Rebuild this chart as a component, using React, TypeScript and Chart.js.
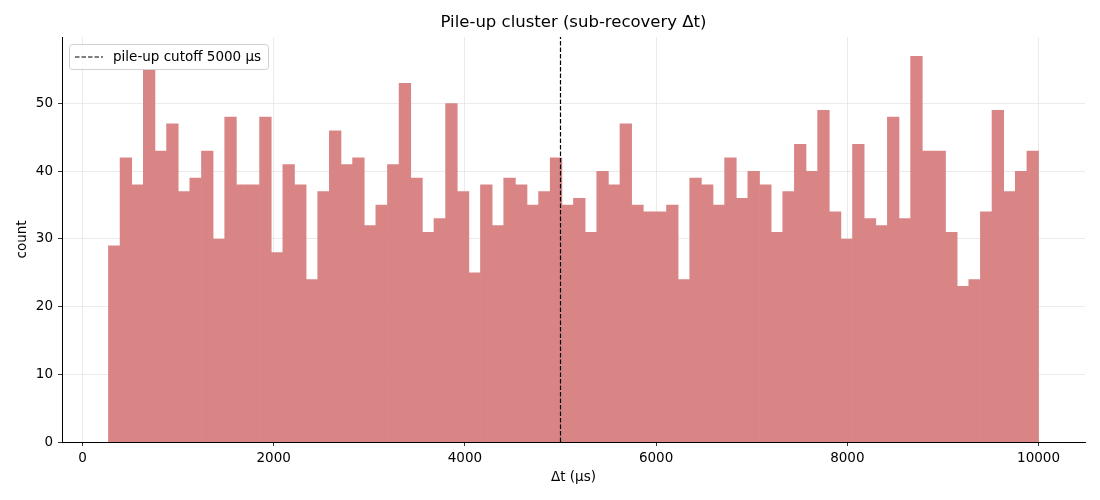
import { useEffect, useRef } from "react"
import { Chart, registerables } from "chart.js"

Chart.register(...registerables)

// histogram of delta-t values (µs), 80 equal bins from BIN_START to BIN_END
const BIN_START = 272
const BIN_END = 10000
const COUNTS = [
  29, 42, 38, 55, 43, 47, 37, 39, 43, 30,
  48, 38, 38, 48, 28, 41, 38, 24, 37, 46,
  41, 42, 32, 35, 41, 53, 39, 31, 33, 50,
  37, 25, 38, 32, 39, 38, 35, 37, 42, 35,
  36, 31, 40, 38, 47, 35, 34, 34, 35, 24,
  39, 38, 35, 42, 36, 40, 38, 31, 37, 44,
  40, 49, 34, 30, 44, 33, 32, 48, 33, 57,
  43, 43, 31, 23, 24, 34, 49, 37, 40, 43,
]
const CUTOFF = 5000
const X_TICKS = [0, 2000, 4000, 6000, 8000, 10000]
const Y_TICKS = [0, 10, 20, 30, 40, 50]
const TITLE = "Pile-up cluster (sub-recovery Δt)"

const X_MIN = -214
const X_MAX = 10486
const Y_MAX = 59.85

const FONT = "'DejaVu Sans', sans-serif"

// title centred over the plot area, like matplotlib does
const axesTitle = {
  id: "axesTitle",
  afterDraw(chart: any) {
    const { ctx, chartArea } = chart
    ctx.save()
    ctx.font = `16.5px ${FONT}`
    ctx.fillStyle = "#000"
    ctx.textAlign = "center"
    ctx.textBaseline = "middle"
    ctx.fillText(TITLE, (chartArea.left + chartArea.right) / 2, 23)
    ctx.restore()
  },
}

// matplotlib-style legend drawn inside the plot, upper left
const insideLegend = {
  id: "insideLegend",
  afterDraw(chart: any) {
    const { ctx, chartArea } = chart
    const ds = chart.data.datasets[1]
    const label = ds.label as string
    ctx.save()
    ctx.font = `13.5px ${FONT}`
    const textW = ctx.measureText(label).width
    const x = chartArea.left + 7
    const y = chartArea.top + 7
    const w = 44 + textW + 7
    const h = 25
    ctx.beginPath()
    ctx.roundRect(x + 0.5, y + 0.5, w, h, 3)
    ctx.fillStyle = "rgba(255,255,255,0.8)"
    ctx.fill()
    ctx.strokeStyle = "#d0d0d0"
    ctx.lineWidth = 1
    ctx.stroke()

    const ly = y + h / 2 + 0.5
    ctx.beginPath()
    ctx.setLineDash([4.5, 2])
    ctx.strokeStyle = "#000"
    ctx.lineWidth = 1.2
    ctx.moveTo(x + 6, ly)
    ctx.lineTo(x + 34, ly)
    ctx.stroke()
    ctx.setLineDash([])

    ctx.fillStyle = "#000"
    ctx.textBaseline = "middle"
    ctx.fillText(label, x + 44, ly)
    ctx.restore()
  },
}

export default function App() {
  const chartRef = useRef<HTMLCanvasElement>(null)
  const chartInstance = useRef<Chart | null>(null)

  useEffect(() => {
    document.body.style.margin = "0"
    if (!chartRef.current) return
    if (chartInstance.current) chartInstance.current.destroy()
    const ctx = chartRef.current.getContext("2d")
    if (!ctx) return

    const binW = (BIN_END - BIN_START) / COUNTS.length
    const bars = COUNTS.map((c, i) => ({ x: BIN_START + binW * (i + 0.5), y: c }))

    chartInstance.current = new Chart(ctx, {
      type: "bar",
      data: {
        datasets: [
          {
            type: "bar",
            label: "count",
            data: bars,
            backgroundColor: "rgb(217, 133, 133)",
            borderWidth: 0,
            barPercentage: 1,
            categoryPercentage: 1,
            grouped: false,
            order: 1,
          },
          {
            type: "line",
            label: `pile-up cutoff ${CUTOFF} µs`,
            data: [
              { x: CUTOFF, y: 0 },
              { x: CUTOFF, y: Y_MAX },
            ],
            borderColor: "#000",
            borderWidth: 1.2,
            borderDash: [4.5, 2],
            pointRadius: 0,
            fill: false,
            order: 0,
          },
        ] as any,
      },
      options: {
        animation: false,
        responsive: true,
        maintainAspectRatio: false,
        layout: { padding: { left: 0, right: 15, top: 37, bottom: 0 } },
        plugins: {
          legend: { display: false },
          tooltip: { enabled: false },
          title: { display: false },
        },
        scales: {
          x: {
            type: "linear",
            min: X_MIN,
            max: X_MAX,
            offset: false,
            afterBuildTicks: (scale: any) => {
              scale.ticks = X_TICKS.map((v) => ({ value: v }))
            },
            afterFit: (scale: any) => {
              scale.height = 58
            },
            grid: { offset: false, color: "#e6e6e6", lineWidth: 0.8, tickColor: "#000", tickLength: 4 },
            border: { display: true, color: "#000", width: 1 },
            ticks: {
              color: "#000",
              font: { family: FONT, size: 13.5 },
              padding: 4,
              maxRotation: 0,
              callback: (v: any) => String(v),
            },
            title: {
              display: true,
              text: "Δt (µs)",
              color: "#000",
              font: { family: FONT, size: 13.5 },
              padding: { top: 0, bottom: 14 },
            },
          },
          y: {
            type: "linear",
            min: 0,
            max: Y_MAX,
            afterBuildTicks: (scale: any) => {
              scale.ticks = Y_TICKS.map((v) => ({ value: v }))
            },
            afterFit: (scale: any) => {
              scale.width = 62
            },
            grid: { color: "#e6e6e6", lineWidth: 0.8, tickColor: "#000", tickLength: 4 },
            border: { display: true, color: "#000", width: 1 },
            ticks: {
              color: "#000",
              font: { family: FONT, size: 13.5 },
              padding: 5,
              callback: (v: any) => String(v),
            },
            title: {
              display: true,
              text: "count",
              color: "#000",
              font: { family: FONT, size: 13.5 },
              padding: { top: 14, bottom: 0 },
            },
          },
        },
      },
      plugins: [axesTitle, insideLegend],
    })

    return () => {
      if (chartInstance.current) {
        chartInstance.current.destroy()
        chartInstance.current = null
      }
    }
  }, [])

  return (
    <div style={{ width: 1100, height: 500, background: "#fff" }}>
      <canvas ref={chartRef} />
    </div>
  )
}
